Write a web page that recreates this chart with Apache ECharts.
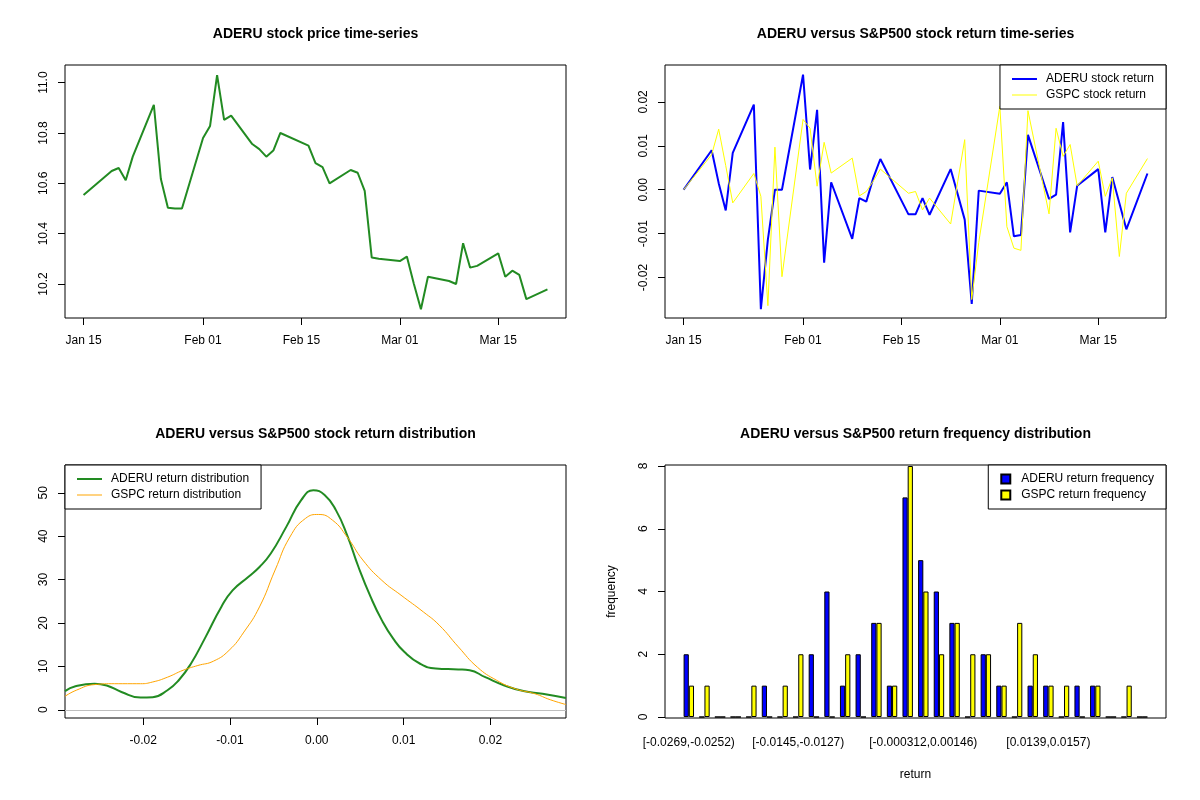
<!DOCTYPE html>
<html>
<head>
<meta charset="utf-8">
<script src="https://cdn.jsdelivr.net/npm/echarts@6/dist/echarts.min.js"></script>
<style>
    html, body { margin: 0; padding: 0; background: #fff; }
    #chart { width: 1200px; height: 800px; }
</style>
</head>
<body>
<div id="chart"></div>
<script>
    // trading days shown in the two time-series panels
    var dates = ['2021-01-15', '2021-01-19', '2021-01-20', '2021-01-21', '2021-01-22', '2021-01-25', '2021-01-26', '2021-01-27', '2021-01-28', '2021-01-29',
        '2021-02-01', '2021-02-02', '2021-02-03', '2021-02-04', '2021-02-05', '2021-02-08', '2021-02-09', '2021-02-10', '2021-02-11', '2021-02-12',
        '2021-02-16', '2021-02-17', '2021-02-18', '2021-02-19', '2021-02-22', '2021-02-23', '2021-02-24', '2021-02-25', '2021-02-26',
        '2021-03-01', '2021-03-02', '2021-03-03', '2021-03-04', '2021-03-05', '2021-03-08', '2021-03-09', '2021-03-10', '2021-03-11', '2021-03-12',
        '2021-03-15', '2021-03-16', '2021-03-17', '2021-03-18', '2021-03-19', '2021-03-22'];

    var aderuPrice = [10.554, 10.649, 10.661, 10.612, 10.706, 10.912, 10.617, 10.503, 10.50, 10.50,
        10.780, 10.828, 11.030, 10.852, 10.869, 10.756, 10.736, 10.706, 10.730, 10.800,
        10.750, 10.680, 10.664, 10.600, 10.653, 10.642, 10.570, 10.305, 10.300,
        10.291, 10.309, 10.200, 10.100, 10.229, 10.212, 10.200, 10.362, 10.265, 10.272,
        10.322, 10.229, 10.253, 10.236, 10.140, 10.179];

    var aderuReturn = [0, 0.0090, 0.0015, -0.0047, 0.0084, 0.0194, -0.0272, -0.0113, 0, 0,
        0.0262, 0.0046, 0.0182, -0.0166, 0.0017, -0.0112, -0.0019, -0.0027, 0.0027, 0.0070,
        -0.0056, -0.0056, -0.0019, -0.0057, 0.0047, -0.0010, -0.0068, -0.0260, -0.0002,
        -0.0009, 0.0017, -0.0106, -0.0103, 0.0125, -0.0021, -0.0011, 0.0154, -0.0097, 0.0009,
        0.0047, -0.0097, 0.0029, -0.0030, -0.0090, 0.0037];

    var gspcReturn = [0, 0.0080, 0.0138, 0.0055, -0.0030, 0.0037, -0.0015, -0.0264, 0.0097, -0.0198,
        0.0160, 0.0140, 0.0008, 0.0108, 0.0038, 0.0072, -0.0014, -0.0004, 0.0020, 0.0047,
        -0.0008, -0.0004, -0.0046, -0.0019, -0.0078, 0.0018, 0.0114, -0.0250, -0.0120,
        0.0190, -0.0084, -0.0133, -0.0138, 0.0180, -0.0055, 0.0140, 0.0076, 0.0103, 0.0009,
        0.0065, -0.0015, 0.0027, -0.0152, -0.0008, 0.0071];

    var dateTicks = ['2021-01-15', '2021-02-01', '2021-02-15', '2021-03-01', '2021-03-15'];
    var dateTickLabels = ['Jan 15', 'Feb 01', 'Feb 15', 'Mar 01', 'Mar 15'];

    // kernel density curves [return, density]
    var aderuDensity = [[-0.0290, 4.3], [-0.0278, 5.4], [-0.0256, 6.0], [-0.0242, 5.6], [-0.0225, 4.1], [-0.0203, 2.8],
        [-0.0189, 2.9], [-0.0172, 4.5], [-0.0159, 6.8], [-0.0145, 10.6], [-0.0128, 16.8], [-0.0110, 23.7],
        [-0.0097, 27.5], [-0.0079, 30.6], [-0.0066, 32.9], [-0.0053, 36.0], [-0.0035, 42.2], [-0.0018, 48.3],
        [-0.0004, 50.6], [0.0009, 49.5], [0.0022, 46.0], [0.0035, 40.2], [0.0048, 32.9], [0.0062, 26.0],
        [0.0075, 20.6], [0.0088, 16.4], [0.0101, 13.3], [0.0119, 10.6], [0.0137, 9.5], [0.0163, 9.3],
        [0.0176, 9.1], [0.0194, 7.5], [0.0216, 5.6], [0.0238, 4.3], [0.0260, 3.7], [0.0287, 2.7]];

    var gspcDensity = [[-0.0290, 3.1], [-0.0277, 4.5], [-0.0256, 5.8], [-0.0233, 6.0], [-0.0203, 6.0], [-0.0189, 6.4],
        [-0.0172, 7.5], [-0.0154, 9.1], [-0.0137, 10.2], [-0.0119, 11.2], [-0.0101, 13.7], [-0.0084, 17.9],
        [-0.0066, 23.7], [-0.0048, 32.2], [-0.0031, 39.8], [-0.0013, 44.1], [0.0002, 45.0], [0.0018, 43.7],
        [0.0035, 39.8], [0.0053, 34.5], [0.0075, 29.8], [0.0097, 26.4], [0.0123, 22.5], [0.0141, 19.5],
        [0.0163, 14.5], [0.0185, 9.8], [0.0207, 6.8], [0.0229, 4.8], [0.0251, 3.7], [0.0269, 2.3], [0.0287, 1.2]];

    // histogram bins of both return series
    var bins = ['[-0.0269,-0.0252)', '[-0.0252,-0.0234)', '[-0.0234,-0.0216)', '[-0.0216,-0.0198)', '[-0.0198,-0.0181)',
        '[-0.0181,-0.0163)', '[-0.0163,-0.0145)', '[-0.0145,-0.0127)', '[-0.0127,-0.011)', '[-0.011,-0.00919)',
        '[-0.00919,-0.00741)', '[-0.00741,-0.00564)', '[-0.00564,-0.00386)', '[-0.00386,-0.00209)', '[-0.00209,-0.000312)',
        '[-0.000312,0.00146)', '[0.00146,0.00324)', '[0.00324,0.00501)', '[0.00501,0.00679)', '[0.00679,0.00856)',
        '[0.00856,0.0103)', '[0.0103,0.0121)', '[0.0121,0.0139)', '[0.0139,0.0157)', '[0.0157,0.0174)',
        '[0.0174,0.0192)', '[0.0192,0.021)', '[0.021,0.0228)', '[0.0228,0.0245)', '[0.0245,0.0263)'];
    var aderuFreq = [2, 0, 0, 0, 0, 1, 0, 0, 2, 4, 1, 2, 3, 1, 7, 5, 4, 3, 0, 2, 1, 0, 1, 1, 0, 1, 1, 0, 0, 0];
    var gspcFreq = [1, 1, 0, 0, 1, 0, 1, 2, 0, 0, 2, 0, 3, 1, 8, 4, 2, 3, 2, 2, 1, 3, 2, 1, 1, 0, 1, 0, 1, 0];
    var shownBins = [0, 7, 15, 23];

    var font = 'Liberation Sans, Arial, sans-serif';
    var tStart = Date.parse(dates[0]), tEnd = Date.parse(dates[dates.length - 1]);
    var tPad = 0.04 * (tEnd - tStart);
    var tickTimes = dateTicks.map(function (d) { return Date.parse(d); });

    // legend line samples, thick and thin
    var thickLine = 'path://M0,0H25V2H0Z';
    var thinLine = 'path://M0,0H25V1H0Z';

    function frame(left, top) {
        return {left: left, top: top, width: 501, height: 253, show: true, borderColor: '#000', borderWidth: 1, containLabel: false};
    }

    function axis(gridIndex, min, max, ticks, formatter, rotate) {
        return {
            type: 'value', gridIndex: gridIndex, min: min, max: max,
            axisLine: {show: false, onZero: false},
            splitLine: {show: false},
            axisTick: {show: true, length: 7, lineStyle: {color: '#000'}, customValues: ticks},
            axisLabel: {color: '#000', fontSize: 12, fontFamily: font, margin: rotate ? 15 : 17,
                rotate: rotate ? 90 : 0, customValues: ticks, formatter: formatter}
        };
    }

    function dateLabel(v) {
        return dateTickLabels[tickTimes.indexOf(v)];
    }

    function fixed(n) {
        return function (v) { return v.toFixed(n); };
    }

    function titleAt(text, x, y) {
        return {text: text, left: x, top: y, textAlign: 'center', padding: 0,
            textStyle: {fontSize: 14, fontWeight: 'bold', color: '#000', fontFamily: font}};
    }

    function legendAt(pos, items, square) {
        var l = {
            data: items, orient: 'vertical', top: pos.top,
            backgroundColor: '#fff', borderColor: '#000', borderWidth: 1, borderRadius: 0,
            padding: [8, 12, 8, 12], itemGap: 4,
            itemWidth: square ? 9 : 25, itemHeight: square ? 9 : 12,
            textStyle: {fontSize: 12, color: '#000', fontFamily: font, padding: [0, 0, 0, square ? 6 : 4]}
        };
        if (pos.left !== undefined) l.left = pos.left; else l.right = pos.right;
        return l;
    }

    var myChart = echarts.init(document.getElementById('chart'), null, {renderer: 'canvas'});

    var option = {
        animation: false,
        backgroundColor: '#fff',
        title: [
            titleAt('ADERU stock price time-series', 315.5, 27),
            titleAt('ADERU versus S&P500 stock return time-series', 915.5, 27),
            titleAt('ADERU versus S&P500 stock return distribution', 315.5, 427),
            titleAt('ADERU versus S&P500 return frequency distribution', 915.5, 427)
        ],
        legend: [
            legendAt({right: 34, top: 65}, [
                {name: 'ADERU stock return', icon: thickLine},
                {name: 'GSPC stock return', icon: thinLine}
            ]),
            legendAt({left: 65, top: 465}, [
                {name: 'ADERU return distribution', icon: thickLine},
                {name: 'GSPC return distribution', icon: thinLine}
            ]),
            legendAt({right: 34, top: 465}, [
                {name: 'ADERU return frequency', icon: 'rect'},
                {name: 'GSPC return frequency', icon: 'rect'}
            ], true)
        ],
        grid: [
            frame(65, 65),
            frame(665, 65),
            frame(65, 465),
            {left: 681, top: 466, width: 469, height: 251, show: false},
            frame(665, 465)
        ],
        xAxis: [
            axis(0, tStart - tPad, tEnd + tPad, tickTimes, dateLabel),
            axis(1, tStart - tPad, tEnd + tPad, tickTimes, dateLabel),
            axis(2, -0.0290, 0.0287, [-0.02, -0.01, 0, 0.01, 0.02], fixed(2)),
            {
                type: 'category', gridIndex: 3, data: bins,
                axisLine: {show: false, onZero: false}, axisTick: {show: false},
                axisLabel: {color: '#000', fontSize: 12, fontFamily: font, margin: 20,
                    interval: function (i) { return shownBins.indexOf(i) >= 0; }},
                name: 'return', nameLocation: 'middle', nameGap: 52,
                nameTextStyle: {color: '#000', fontSize: 12, fontFamily: font}
            },
            {type: 'value', gridIndex: 4, show: false}
        ],
        yAxis: [
            axis(0, 10.065, 11.070, [10.2, 10.4, 10.6, 10.8, 11.0], fixed(1), true),
            axis(1, -0.0292, 0.0284, [-0.02, -0.01, 0, 0.01, 0.02], fixed(2), true),
            axis(2, -1.9, 56.4, [0, 10, 20, 30, 40, 50], fixed(0), true),
            {
                type: 'value', gridIndex: 3, min: 0, max: 8, interval: 2, offset: 16,
                axisLine: {show: false, onZero: false}, splitLine: {show: false},
                axisTick: {show: true, length: 7, lineStyle: {color: '#000'}},
                axisLabel: {color: '#000', fontSize: 12, fontFamily: font, margin: 15, rotate: 90},
                name: 'frequency', nameLocation: 'middle', nameGap: 47,
                nameTextStyle: {color: '#000', fontSize: 12, fontFamily: font}
            },
            {type: 'value', gridIndex: 4, show: false}
        ],
        series: [
            {
                name: 'ADERU price', type: 'line', xAxisIndex: 0, yAxisIndex: 0, symbol: 'none',
                lineStyle: {color: '#228B22', width: 2}, itemStyle: {color: '#228B22'},
                data: dates.map(function (d, i) { return [Date.parse(d), aderuPrice[i]]; })
            },
            {
                name: 'ADERU stock return', type: 'line', xAxisIndex: 1, yAxisIndex: 1, symbol: 'none',
                lineStyle: {color: '#0000FF', width: 2}, itemStyle: {color: '#0000FF'},
                data: dates.map(function (d, i) { return [Date.parse(d), aderuReturn[i]]; })
            },
            {
                name: 'GSPC stock return', type: 'line', xAxisIndex: 1, yAxisIndex: 1, symbol: 'none',
                lineStyle: {color: '#FFFF00', width: 1}, itemStyle: {color: '#FFFF00'},
                data: dates.map(function (d, i) { return [Date.parse(d), gspcReturn[i]]; })
            },
            {
                name: 'ADERU return distribution', type: 'line', xAxisIndex: 2, yAxisIndex: 2, symbol: 'none',
                smooth: true, lineStyle: {color: '#228B22', width: 2}, itemStyle: {color: '#228B22'},
                data: aderuDensity,
                markLine: {
                    silent: true, symbol: ['none', 'none'], label: {show: false},
                    lineStyle: {color: '#BEBEBE', type: 'solid', width: 1},
                    data: [{yAxis: 0}]
                }
            },
            {
                name: 'GSPC return distribution', type: 'line', xAxisIndex: 2, yAxisIndex: 2, symbol: 'none',
                smooth: true, lineStyle: {color: '#FFA500', width: 1}, itemStyle: {color: '#FFA500'},
                data: gspcDensity
            },
            {
                name: 'ADERU return frequency', type: 'bar', xAxisIndex: 3, yAxisIndex: 3,
                barGap: '0%', barCategoryGap: '33.33%',
                itemStyle: {color: '#0000FF', borderColor: '#000', borderWidth: 1},
                data: aderuFreq
            },
            {
                name: 'GSPC return frequency', type: 'bar', xAxisIndex: 3, yAxisIndex: 3,
                barGap: '0%', barCategoryGap: '33.33%',
                itemStyle: {color: '#FFFF00', borderColor: '#000', borderWidth: 1},
                data: gspcFreq
            }
        ]
    };

    myChart.setOption(option);
</script>
</body>
</html>
